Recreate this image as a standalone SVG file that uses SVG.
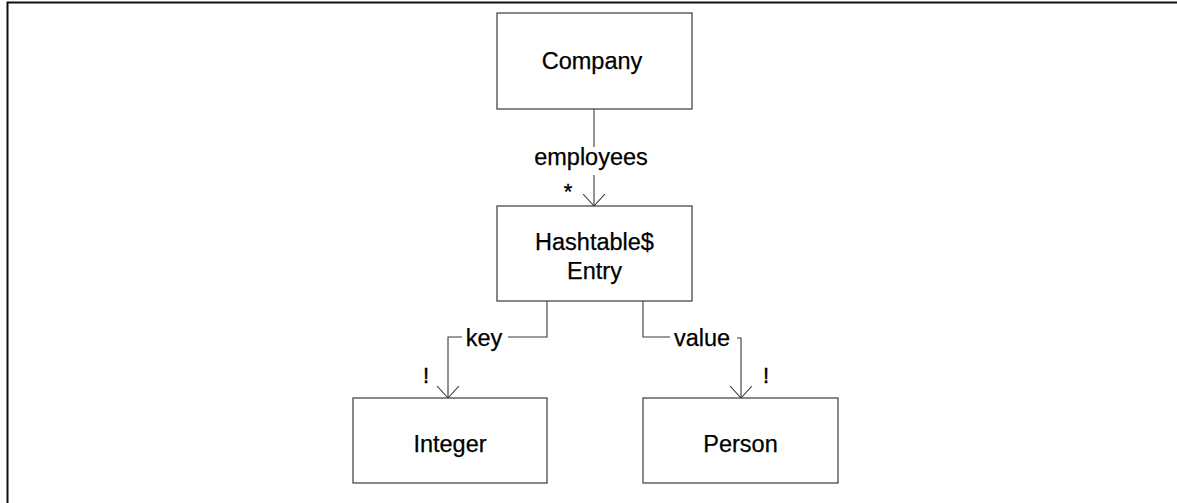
<svg xmlns="http://www.w3.org/2000/svg" width="1177" height="503" viewBox="0 0 1177 503">
  <style>
    .box { fill: #ffffff; stroke: #3a3a3a; stroke-width: 1.2; }
    .lbl { font-family: "Liberation Sans", Arial, sans-serif; font-size: 23.5px; fill: #000000; stroke: #000000; stroke-width: 0.25; text-anchor: middle; }
    .small { font-family: "Liberation Sans", Arial, sans-serif; font-size: 22px; fill: #000000; stroke: #000000; stroke-width: 0.4; text-anchor: middle; }
    .wire { fill: none; stroke: #3a3a3a; stroke-width: 1.1; }
    .frame { fill: none; stroke: #111111; stroke-width: 2; }
  </style>
  <defs>
    <!-- open V arrowhead, 12 long, 22 wide -->
    <marker id="open" viewBox="0 0 13 24" refX="12" refY="12" markerWidth="13" markerHeight="24" markerUnits="userSpaceOnUse" orient="auto">
      <path d="M0,1 L12,12 L0,23" fill="none" stroke="#3a3a3a" stroke-width="1.1"/>
    </marker>
  </defs>

  <rect width="1177" height="503" fill="#ffffff"/>
  <!-- outer frame: top and left edges -->
  <path class="frame" d="M7.5,503 V2.5 H1177"/>

  <g id="connectors">
    <!-- Company -> Hashtable$Entry -->
    <path class="wire" d="M594,109 V147"/>
    <path class="wire" d="M594,175 V206" marker-end="url(#open)"/>
    <text class="lbl" x="591" y="165">employees</text>
    <text class="small" x="568" y="199">*</text>

    <!-- Hashtable$Entry -> Integer (key) -->
    <path class="wire" d="M547,301 V337 H508"/>
    <path class="wire" d="M462,337 H448 V398" marker-end="url(#open)"/>
    <text class="lbl" x="484" y="346">key</text>
    <text class="small" x="426" y="383">!</text>

    <!-- Hashtable$Entry -> Person (value) -->
    <path class="wire" d="M643,301 V337 H670"/>
    <path class="wire" d="M737,338 H741 V398" marker-end="url(#open)"/>
    <text class="lbl" x="702" y="346">value</text>
    <text class="small" x="766" y="383">!</text>
  </g>

  <g id="company">
    <rect class="box" x="497" y="13" width="195" height="96"/>
    <text class="lbl" x="592" y="69">Company</text>
  </g>

  <g id="hashtable-entry">
    <rect class="box" x="497" y="206" width="195" height="95"/>
    <text class="lbl" x="594.5" y="250">Hashtable$</text>
    <text class="lbl" x="594.5" y="279">Entry</text>
  </g>

  <g id="integer">
    <rect class="box" x="353" y="398" width="194" height="85"/>
    <text class="lbl" x="450" y="452">Integer</text>
  </g>

  <g id="person">
    <rect class="box" x="643" y="398" width="195" height="85"/>
    <text class="lbl" x="740.5" y="452">Person</text>
  </g>
</svg>
